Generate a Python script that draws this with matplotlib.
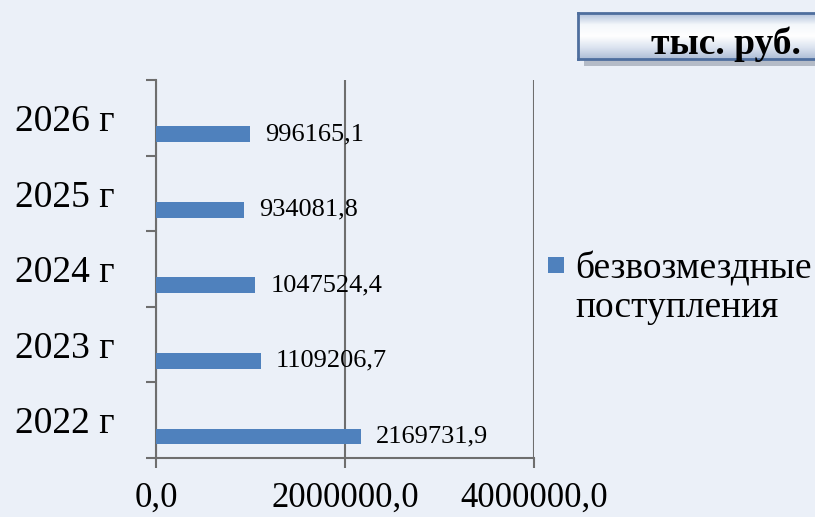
import numpy as np
import matplotlib.pyplot as plt
from matplotlib.patches import Rectangle
from matplotlib.colors import LinearSegmentedColormap

years = ["2022 г", "2023 г", "2024 г", "2025 г", "2026 г"]
values = [2169731.9, 1109206.7, 1047524.4, 934081.8, 996165.1]
value_labels = ["2169731,9", "1109206,7", "1047524,4", "934081,8", "996165,1"]
x_ticks = [0, 2000000, 4000000]
x_tick_labels = ["0,0", "2000000,0", "4000000,0"]
legend_label = "безвозмездные\nпоступления"
unit_label = "тыс. руб."

bg = "#EBF0F8"
bar_color = "#4F81BD"
axis_color = "#6E6E6E"

plt.rcParams['font.family'] = ['Liberation Serif', 'DejaVu Serif']

fig = plt.figure(figsize=(8.15, 5.17), dpi=100)
fig.patch.set_facecolor(bg)
ax = fig.add_axes([156 / 815, 1 - 458 / 517, 378 / 815, 378 / 517])
ax.set_facecolor(bg)

pos = np.arange(len(years))
bar_pos = pos - 0.215
ax.barh(bar_pos, values, height=0.21, color=bar_color, zorder=3)

for y, v, lab in zip(bar_pos, values, value_labels):
    ax.annotate(lab, (v, y), xytext=(11, 0), textcoords="offset points",
                va="center", ha="left", fontsize=19, color="black", zorder=4)

ax.set_xlim(0, 4000000)
ax.set_ylim(-0.5, len(years) - 0.5)
ax.set_xticks(x_ticks)
ax.set_xticklabels(x_tick_labels, fontsize=25)
ax.tick_params(axis="x", length=7, width=1.5, color=axis_color, pad=10)

# band boundaries carry tick marks, band centers carry the year labels
ax.set_yticks(np.arange(-0.5, len(years), 1.0))
ax.set_yticklabels([])
ax.tick_params(axis="y", which="major", length=7, width=1.5, color=axis_color)
ax.set_yticks(pos, minor=True)
ax.set_yticklabels(years, minor=True, fontsize=27)
ax.tick_params(axis="y", which="minor", length=0, pad=30)

for s in ["top", "right"]:
    ax.spines[s].set_visible(False)
for s in ["left", "bottom"]:
    ax.spines[s].set_color(axis_color)
    ax.spines[s].set_linewidth(1.5)

ax.xaxis.grid(True, color=axis_color, linewidth=1.5, zorder=1)
ax.set_axisbelow(True)

# legend drawn by hand so the marker sits beside the first line
fig.patches.append(Rectangle((548 / 815, 1 - 273 / 517), 16 / 815, 16 / 517,
                             transform=fig.transFigure, facecolor=bar_color,
                             edgecolor="none"))
fig.text(575 / 815, 1 - 252 / 517, legend_label, fontsize=27, va="top",
         ha="left", linespacing=1.12)

# unit box with a gradient fill and a soft shadow
shadow = fig.add_axes([584 / 815, 1 - 66 / 517, 240 / 815, 46 / 517])
shadow.axis("off")
shadow.add_patch(Rectangle((0, 0), 1, 1, transform=shadow.transAxes,
                           facecolor="#7E8898", alpha=0.5, edgecolor="none"))
box = fig.add_axes([578 / 815, 1 - 59 / 517, 240 / 815, 46 / 517])
grad = np.linspace(0, 1, 100).reshape(-1, 1)
cmap = LinearSegmentedColormap.from_list(
    "g", ["#AFC0DA", "#F4F7FB", "#FFFFFF", "#DCE4F0", "#AEBDD6"])
box.imshow(grad, aspect="auto", cmap=cmap, extent=[0, 1, 0, 1])
box.set_xticks([])
box.set_yticks([])
for s in box.spines.values():
    s.set_color("#4E6E9E")
    s.set_linewidth(2)
box.text(0.93, 0.33, unit_label, transform=box.transAxes, fontsize=27,
         fontweight="bold", ha="right", va="center")

fig.savefig("out.png", dpi=100, facecolor=bg)
